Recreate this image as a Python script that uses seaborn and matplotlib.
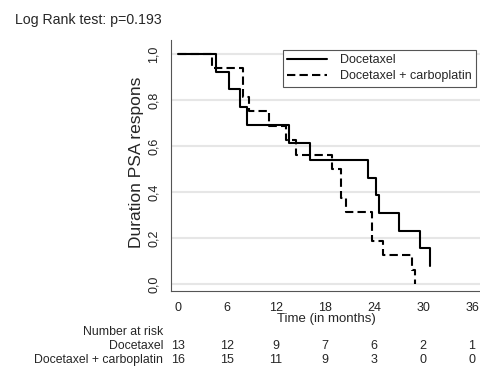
import pandas as pd
import numpy as np
import matplotlib.pyplot as plt
import matplotlib.transforms as mtransforms
from matplotlib.lines import Line2D
import seaborn as sns

sns.set_style("white")
plt.rcParams["font.family"] = ["Liberation Sans", "DejaVu Sans"]

# ----------------------------------------------------------------
# DATA
# ----------------------------------------------------------------
doc_times = [0, 4.7, 6.2, 7.6, 8.4, 13.6, 16.2, 23.3, 24.2, 24.6, 27.0, 29.6, 30.8]
doc_surv = [1.0, 0.923, 0.846, 0.769, 0.692, 0.615, 0.538, 0.462, 0.385, 0.308, 0.231, 0.154, 0.077]

carbo_times = [0, 4.1, 7.9, 8.7, 11.2, 13.2, 14.5, 18.9, 20.0, 20.6, 23.7, 25.1, 28.6, 29.0]
carbo_surv = [1.0, 0.9375, 0.8125, 0.75, 0.6875, 0.625, 0.5625, 0.5, 0.375, 0.3125, 0.1875, 0.125, 0.0625, 0.0]

groups = ["Docetaxel", "Docetaxel + carboplatin"]
risk_times = [0, 6, 12, 18, 24, 30, 36]
risk_doc = [13, 12, 9, 7, 6, 2, 1]
risk_carbo = [16, 15, 11, 9, 3, 0, 0]

yticks = [0.0, 0.2, 0.4, 0.6, 0.8, 1.0]
ytick_labels = ["0,0", "0,2", "0,4", "0,6", "0,8", "1,0"]

df = pd.concat([
    pd.DataFrame({"time": doc_times, "surv": doc_surv, "group": groups[0]}),
    pd.DataFrame({"time": carbo_times, "surv": carbo_surv, "group": groups[1]}),
])

# ----------------------------------------------------------------
# PLOT
# ----------------------------------------------------------------
W, H = 481, 368
fig = plt.figure(figsize=(W / 100, H / 100), dpi=100)
ax = fig.add_axes([171 / W, 1 - 291 / H, (W - 171) / W, (291 - 40) / H])

for y in yticks:
    ax.axhline(y, color="#e6e6e6", lw=1.5, zorder=0)

sns.lineplot(data=df, x="time", y="surv", hue="group", style="group",
             palette=["black", "black"], dashes=[(None, None), (4, 2)],
             drawstyle="steps-post", lw=1.5, sort=False, estimator=None,
             ax=ax, legend=False)

ax.set_xlim(-0.86, 37.1)
ax.set_ylim(-0.031, 1.061)
ax.set_xticks(risk_times)
ax.set_yticks(yticks)
ax.set_yticklabels(ytick_labels, rotation=90, va="center")
ax.tick_params(axis="both", direction="out", length=5, width=0.8,
               color="#555555", labelsize=9, labelcolor="#222222", pad=3)
ax.set_xlabel("Time (in months)", fontsize=9.5, labelpad=-1)
ax.set_ylabel("")
for s in ["top", "right"]:
    ax.spines[s].set_visible(False)
for s in ["left", "bottom"]:
    ax.spines[s].set_color("#555555")
    ax.spines[s].set_linewidth(0.8)

fig.text(137 / W, 1 - 162 / H, "Duration PSA respons", rotation=90,
         ha="center", va="center", fontsize=12.5)
fig.text(15 / W, 1 - 20 / H, "Log Rank test: p=0.193", ha="left", va="center",
         fontsize=10.2)

# legend
handles = [Line2D([], [], color="black", lw=1.5),
           Line2D([], [], color="black", lw=1.5, dashes=(4, 2))]
leg = ax.legend(handles, groups, loc="upper left",
                bbox_to_anchor=(283 / W, 1 - 50 / H), bbox_transform=fig.transFigure,
                fancybox=False, framealpha=1, edgecolor="#555555", fontsize=9,
                handlelength=3.2, borderpad=0.35, labelspacing=0.3,
                handletextpad=1.0, borderaxespad=0)
leg.get_frame().set_linewidth(0.8)

# number at risk table
trans = mtransforms.blended_transform_factory(ax.transData, fig.transFigure)
fig.text(163 / W, 1 - 332 / H, "Number at risk", ha="right", va="center", fontsize=8.8)
fig.text(163 / W, 1 - 346 / H, groups[0], ha="right", va="center", fontsize=8.8)
fig.text(163 / W, 1 - 360 / H, groups[1], ha="right", va="center", fontsize=8.8)
for t, a, b in zip(risk_times, risk_doc, risk_carbo):
    ax.text(t, 1 - 346 / H, str(a), transform=trans, ha="center", va="center",
            fontsize=9, clip_on=False)
    ax.text(t, 1 - 360 / H, str(b), transform=trans, ha="center", va="center",
            fontsize=9, clip_on=False)

plt.savefig("out.png", dpi=100)
